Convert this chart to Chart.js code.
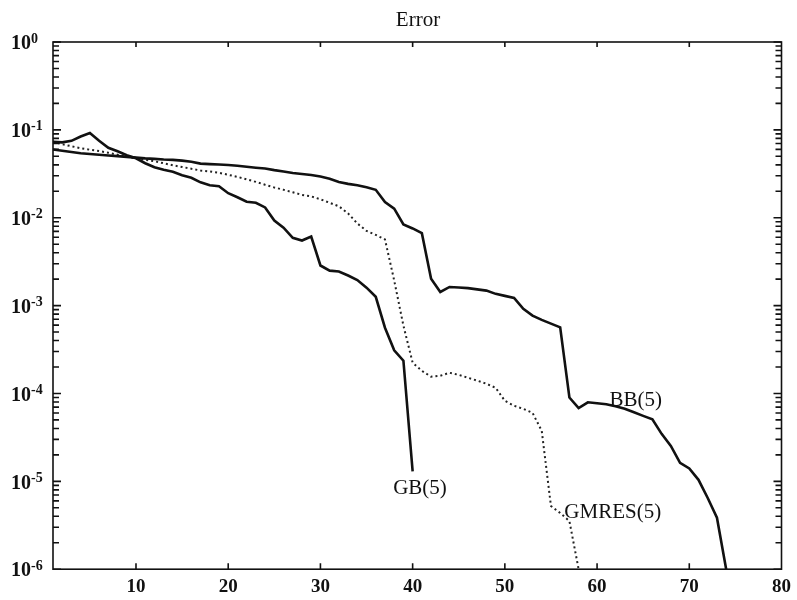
<!DOCTYPE html>
<html>
<head>
<meta charset="utf-8">
<script src="https://cdn.jsdelivr.net/npm/chart.js@4/dist/chart.umd.min.js"></script>
<style>
  html, body { margin: 0; padding: 0; background: #fff; }
  #wrap { width: 797px; height: 600px; }
</style>
</head>
<body>
<div id="wrap"><canvas id="c" width="797" height="600"></canvas></div>
<script>
// Iteration numbers (x axis)
const iterations = [1,2,3,4,5,6,7,8,9,10,11,12,13,14,15,16,17,18,19,20,
  21,22,23,24,25,26,27,28,29,30,31,32,33,34,35,36,37,38,39,40,
  41,42,43,44,45,46,47,48,49,50,51,52,53,54,55,56,57,58,59,60,
  61,62,63,64,65,66,67,68,69,70,71,72,73,74];

// GB(5) error per iteration
const gbError = [0.073,0.072,0.075,0.084,0.092,0.075,0.0626,0.057,0.0514,0.0475,
  0.0417,0.0375,0.0351,0.0333,0.0304,0.0285,0.0253,0.0234,0.0228,0.019,
  0.0171,0.0152,0.0148,0.0131,0.0093,0.0077,0.0059,0.0055,0.0061,0.00286,
  0.0025,0.00244,0.0022,0.00195,0.0016,0.00126,0.00056,0.00031,0.000236,0.000013];

// BB(5) error per iteration
const bbError = [0.0597,0.0579,0.0561,0.0542,0.0531,0.0521,0.0511,0.0502,0.0493,0.0483,
  0.0474,0.0468,0.0460,0.0455,0.0447,0.0433,0.0413,0.0408,0.0403,0.0398,
  0.0390,0.0380,0.0371,0.0363,0.0348,0.0336,0.0323,0.0315,0.0307,0.0294,
  0.0277,0.0255,0.0243,0.0234,0.0222,0.0208,0.0151,0.0127,0.00839,0.00755,
  0.00668,0.00202,0.00143,0.00163,0.00161,0.00158,0.00153,0.00148,0.00136,0.00129,
  0.00122,0.000918,0.000769,0.000687,0.000623,0.000566,0.000090,0.0000681,0.0000793,0.0000773,
  0.0000755,0.0000714,0.0000669,0.0000610,0.0000556,0.0000508,0.0000347,0.0000253,0.0000162,0.0000140,
  0.0000104,0.00000646,0.00000385,0.000001];

// GMRES(5) error per iteration
const gmresError = [0.0729,0.0686,0.0651,0.0618,0.0594,0.0574,0.0549,0.0521,0.0497,0.0475,
  0.0457,0.0439,0.0417,0.0395,0.0378,0.0361,0.0345,0.0336,0.0325,0.0308,
  0.0292,0.0274,0.0256,0.0237,0.0221,0.0208,0.0195,0.0182,0.0175,0.0162,
  0.0148,0.0135,0.0112,0.00862,0.00708,0.00637,0.00566,0.00193,0.000592,0.000224,
  0.000181,0.000155,0.000159,0.000172,0.000163,0.000151,0.000140,0.000129,0.000116,0.0000825,
  0.0000724,0.0000669,0.0000602,0.0000375,0.00000523,0.00000436,0.00000353,0.000001];

const xTickValues = [10,20,30,40,50,60,70,80];
const yDecades = [0,-1,-2,-3,-4,-5,-6];

// Curve labels: [text, iteration, error]
const curveLabels = [
  ['GB(5)', 40.8, 0.0000084],
  ['BB(5)', 64.2, 0.0000826],
  ['GMRES(5)', 61.7, 0.00000447]
];

const SERIF = '"Liberation Serif", "Times New Roman", serif';

function pts(arr) { return arr.map((v, i) => ({ x: iterations[i], y: v })); }

const framePlugin = {
  id: 'frame',
  afterDraw(chart) {
    const ctx = chart.ctx;
    const a = chart.chartArea;
    const xs = chart.scales.x, ys = chart.scales.y;
    ctx.save();
    ctx.strokeStyle = '#111';
    ctx.fillStyle = '#111';
    ctx.lineWidth = 1.6;
    ctx.strokeRect(a.left, a.top, a.right - a.left, a.bottom - a.top);
    // x ticks (inward, top and bottom)
    xTickValues.forEach(v => {
      const px = xs.getPixelForValue(v);
      if (px >= a.right - 1) return;
      ctx.beginPath();
      ctx.moveTo(px, a.bottom); ctx.lineTo(px, a.bottom - 6);
      ctx.moveTo(px, a.top); ctx.lineTo(px, a.top + 5);
      ctx.stroke();
    });
    // y ticks (log major + minor, inward on both sides)
    yDecades.forEach(k => {
      const base = Math.pow(10, k);
      const py = ys.getPixelForValue(base);
      ctx.beginPath();
      ctx.moveTo(a.left, py); ctx.lineTo(a.left + 8, py);
      ctx.moveTo(a.right, py); ctx.lineTo(a.right - 8, py);
      ctx.stroke();
      if (k < 0) {
        for (let m = 2; m <= 9; m++) {
          const pm = ys.getPixelForValue(m * base);
          ctx.beginPath();
          ctx.moveTo(a.left, pm); ctx.lineTo(a.left + 6, pm);
          ctx.moveTo(a.right, pm); ctx.lineTo(a.right - 6, pm);
          ctx.stroke();
        }
      }
      // label 10^k
      ctx.textAlign = 'left';
      ctx.textBaseline = 'middle';
      ctx.font = 'bold 20px ' + SERIF;
      ctx.fillText('10', 11, py + 2);
      const w = ctx.measureText('10').width;
      ctx.font = 'bold 14px ' + SERIF;
      ctx.fillText(k === 0 ? '0' : '-' + Math.abs(k), 11 + w, py - 3);
    });
    // curve labels
    ctx.font = '21px ' + SERIF;
    ctx.textAlign = 'center';
    ctx.textBaseline = 'middle';
    curveLabels.forEach(([t, x, y]) => {
      ctx.fillText(t, xs.getPixelForValue(x), ys.getPixelForValue(y));
    });
    ctx.restore();
  }
};

new Chart(document.getElementById('c'), {
  type: 'line',
  data: {
    datasets: [
      { label: 'GB(5)', data: pts(gbError), borderColor: '#111', borderWidth: 2.6, pointRadius: 0, tension: 0, fill: false },
      { label: 'BB(5)', data: pts(bbError), borderColor: '#111', borderWidth: 2.6, pointRadius: 0, tension: 0, fill: false },
      { label: 'GMRES(5)', data: pts(gmresError), borderColor: '#222', borderWidth: 2, borderDash: [2, 3], pointRadius: 0, tension: 0, fill: false }
    ]
  },
  options: {
    responsive: false,
    animation: false,
    devicePixelRatio: 1,
    layout: { padding: { left: 53, right: 14, top: 0, bottom: -4 } },
    plugins: {
      legend: { display: false },
      tooltip: { enabled: false },
      title: {
        display: true, text: 'Error', color: '#111',
        font: { family: SERIF, size: 21, weight: 'normal' },
        padding: { top: 7.4, bottom: 9.4 }
      }
    },
    scales: {
      x: {
        type: 'linear', min: 1, max: 80,
        grid: { display: false, drawTicks: false },
        border: { display: false },
        afterBuildTicks: s => { s.ticks = xTickValues.map(v => ({ value: v })); },
        ticks: { color: '#111', padding: 6, maxRotation: 0, font: { family: SERIF, size: 19, weight: 'bold' } }
      },
      y: {
        type: 'logarithmic', min: 1e-6, max: 1,
        grid: { display: false, drawTicks: false },
        border: { display: false },
        ticks: { display: false }
      }
    }
  },
  plugins: [framePlugin]
});
</script>
</body>
</html>
